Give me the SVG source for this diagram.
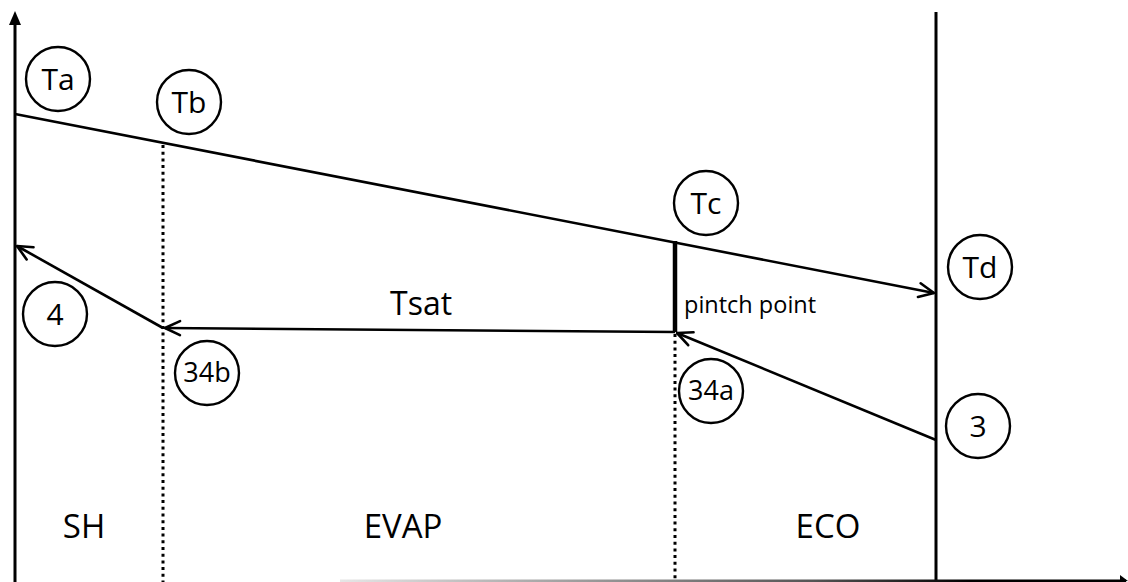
<svg xmlns="http://www.w3.org/2000/svg" width="1128" height="582" viewBox="0 0 1128 582">
  <style>
    .bubble circle { fill: none; stroke: #000; stroke-width: 2.4; }
    .bubble text { font-family: "Open Sans", "Liberation Sans", sans-serif; font-size: 30px; fill: #000; text-anchor: middle; }
    .bubble.small text { font-size: 27px; }
    .axis { stroke: #000; stroke-width: 3; fill: none; }
    .flow { stroke: #000; stroke-width: 2.6; fill: none; }
    .dotted { stroke: #000; stroke-width: 3; stroke-dasharray: 3 3.7; fill: none; }
    .label { font-family: "Open Sans", "Liberation Sans", sans-serif; fill: #000; }
    .zone { font-size: 33px; text-anchor: middle; }
  </style>
  <defs>
    <marker id="open-arrow" markerUnits="userSpaceOnUse" markerWidth="20" markerHeight="20" viewBox="0 0 20 20" refX="18" refY="10" orient="auto">
      <path d="M3,3 L18,10 L3,17" fill="none" stroke="#000" stroke-width="2.6" stroke-linecap="round" stroke-linejoin="round"/>
    </marker>
    <linearGradient id="baseline-fade" x1="340" y1="0" x2="1128" y2="0" gradientUnits="userSpaceOnUse">
      <stop offset="0" stop-color="#e6e6e6"/>
      <stop offset="0.6" stop-color="#555"/>
      <stop offset="0.8" stop-color="#000"/>
    </linearGradient>
  </defs>

  <rect width="1128" height="582" fill="#fff"/>

  <!-- axes and section boundaries -->
  <g id="axes">
    <line class="axis" x1="15" y1="22" x2="15" y2="582"/>
    <polygon points="15,11 9,25 21,25" fill="#000"/>
    <line class="axis" x1="936" y1="12" x2="936" y2="582"/>
    <line x1="340" y1="581" x2="1126" y2="581" stroke="url(#baseline-fade)" stroke-width="3"/>
    <polygon points="1128,581 1120,575 1120,582" fill="#000"/>
    <line class="dotted" x1="163" y1="145" x2="163" y2="582"/>
    <line class="dotted" x1="675" y1="334" x2="675" y2="582"/>
  </g>

  <!-- temperature profiles -->
  <g id="connectors">
    <line class="flow" x1="15" y1="114" x2="934" y2="293" marker-end="url(#open-arrow)"/>
    <line class="flow" x1="675" y1="332" x2="165" y2="328" marker-end="url(#open-arrow)"/>
    <line class="flow" x1="163" y1="328" x2="17" y2="246" marker-end="url(#open-arrow)"/>
    <line class="flow" x1="936" y1="440" x2="677" y2="333" marker-end="url(#open-arrow)"/>
    <line id="pinch-bar" x1="675" y1="241" x2="675" y2="332" stroke="#000" stroke-width="4.5"/>
  </g>

  <!-- state point bubbles -->
  <g id="Ta" class="bubble"><circle cx="58" cy="79" r="32"/><text x="58" y="90">Ta</text></g>
  <g id="Tb" class="bubble"><circle cx="189" cy="102" r="32"/><text x="189" y="113">Tb</text></g>
  <g id="Tc" class="bubble"><circle cx="706" cy="203" r="32"/><text x="706" y="214">Tc</text></g>
  <g id="Td" class="bubble"><circle cx="980" cy="267" r="32"/><text x="980" y="278">Td</text></g>
  <g id="p4" class="bubble"><circle cx="55" cy="314" r="32"/><text x="55" y="325">4</text></g>
  <g id="p34b" class="bubble small"><circle cx="207" cy="373" r="32"/><text x="207" y="382">34b</text></g>
  <g id="p34a" class="bubble small"><circle cx="711" cy="391" r="32"/><text x="711" y="400">34a</text></g>
  <g id="p3" class="bubble"><circle cx="978" cy="426" r="32"/><text x="978" y="437">3</text></g>

  <!-- annotations -->
  <g id="labels">
    <text class="label" x="390" y="315" font-size="32">Tsat</text>
    <text class="label" x="684" y="313" font-size="23.5">pintch point</text>
    <text class="label zone" x="84" y="538">SH</text>
    <text class="label zone" x="403" y="538">EVAP</text>
    <text class="label zone" x="828" y="538">ECO</text>
  </g>
</svg>
